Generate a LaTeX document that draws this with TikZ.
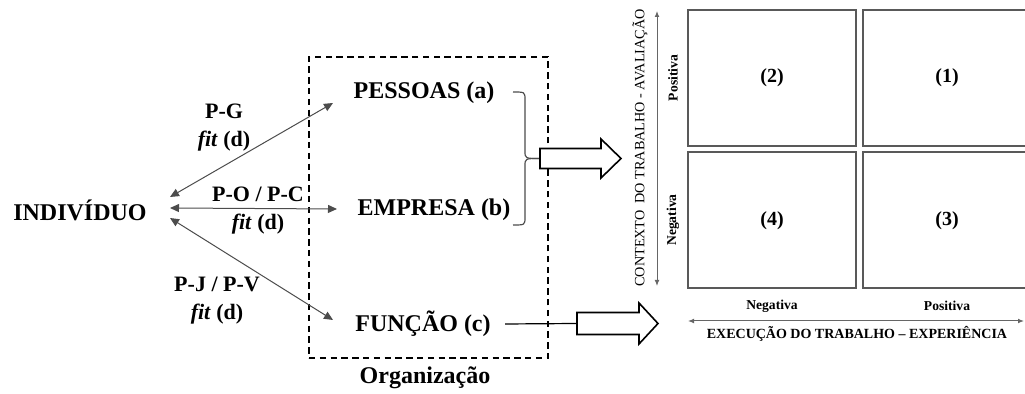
\documentclass[tikz,border=0pt]{standalone}
\usepackage{fontspec}
\setmainfont{Liberation Serif}
\usetikzlibrary{arrows.meta}
\tikzset{fit arrow/.style={{Triangle[length=4.5pt,width=4pt]}-{Triangle[length=4.5pt,width=4pt]}, line width=0.5pt, black!70},
    axis arrow/.style={{Latex[length=3pt,width=2.4pt]}-{Latex[length=3pt,width=2.4pt]}, line width=0.5pt, black!60},
    big label/.style={font=\fontsize{12}{14}\selectfont\bfseries, inner sep=0pt},
    fit label/.style={font=\fontsize{11}{14}\selectfont\bfseries, align=center, inner sep=0pt},
    block arrow/.style={draw=black, line width=0.8pt, fill=white},
    cell/.style={draw=black!65, line width=1pt, minimum width=84pt, minimum height=68pt, font=\fontsize{10}{12}\selectfont\bfseries},
    small label/.style={font=\fontsize{6.8}{8}\selectfont\bfseries, inner sep=0pt},
}

\begin{document}
\begin{tikzpicture}[x=0.5pt, y=-0.5pt]
                    \useasboundingbox (0,0) rectangle (1025,394);
                    %Individual on the left
                    \node[big label] (indiv) at (80,210) {INDIVÍDUO};
                    \coordinate (ig) at (170,197);
                    \coordinate (io) at (170,208);
                    \coordinate (ij) at (170,218);
                    %Organization box with its three parts
                    \node[draw, dashed, dash pattern=on 3.2pt off 2.2pt, line width=0.9pt, minimum width=119.5pt, minimum height=150.5pt] (org) at (428.5,207.5) {};
                    \node[big label] (orgname) at (425,378) {Organização};
                    \node[big label] (pessoas) at (424,93) {PESSOAS (a)};
                    \node[big label] (empresa) at (434,210) {EMPRESA (b)};
                    \node[big label] (funcao) at (423,324) {FUNÇÃO (c)};
                    \coordinate (pa) at (333,103);
                    \coordinate (eb) at (337,209);
                    \coordinate (fc) at (333,320);
                    %Fit arrows
                    \draw[fit arrow] (ig) -- (pa);
                    \draw[fit arrow] (io) -- (eb);
                    \draw[fit arrow] (ij) -- (fc);
                    \node[fit label] (pg) at (224,127.5) {P-G\\\textit{fit} (d)};
                    \node[fit label] (po) at (258,211) {P-O / P-C\\\textit{fit} (d)};
                    \node[fit label] (pj) at (217,301) {P-J / P-V\\\textit{fit} (d)};
                    %Brace and block arrows
                    \coordinate (bracetip) at (540,158.5);
                    \draw[black!70, line width=0.6pt] (513,92) .. controls (525,92) .. (525,100) -- (525,151) .. controls (525,158.5) .. (bracetip);
                    \draw[black!70, line width=0.6pt] (bracetip) .. controls (525,158.5) .. (525,166) -- (525,217) .. controls (525,225) .. (513,225);
                    \draw[block arrow] (540,148.5) -- (601,148.5) -- (601,139) -- (621,158.5) -- (601,178) -- (601,168.5) -- (540,168.5) -- cycle;
                    \coordinate (arrowtwo) at (577,323.5);
                    \draw[black, line width=0.6pt] (funcao.east) ++(14,0) -- (arrowtwo);
                    \draw[block arrow] (577,312.5) -- (639,312.5) -- (639,303) -- (658,323.5) -- (639,344) -- (639,334.5) -- (577,334.5) -- cycle;
                    %Matrix of four cells
                    \node[cell] (q2) at (772,78) {(2)};
                    \node[cell] (q1) at (947,78) {(1)};
                    \node[cell] (q4) at (772,220.5) {(4)};
                    \node[cell] (q3) at (947,220.5) {(3)};
                    %Vertical axis
                    \coordinate (vtop) at (657,11);
                    \coordinate (vbot) at (657,286);
                    \draw[axis arrow] (vtop) -- (vbot);
                    \node[rotate=90, inner sep=0pt, font=\fontsize{7.1}{8}\selectfont] (ctx) at (640,148) {CONTEXTO\ \ DO TRABALHO - AVALIAÇÃO};
                    \node[small label, rotate=90] (vpos) at (673,78) {Positiva};
                    \node[small label, rotate=90] (vneg) at (673,220) {Negativa};
                    %Horizontal axis
                    \coordinate (hleft) at (688,321);
                    \coordinate (hright) at (1024,321);
                    \draw[axis arrow] (hleft) -- (hright);
                    \node[small label] (hneg) at (772,306) {Negativa};
                    \node[small label] (hpos) at (947,306) {Positiva};
                    \node[small label, font=\fontsize{7}{8}\selectfont\bfseries] (exec) at (857,334) {EXECUÇÃO DO TRABALHO – EXPERIÊNCIA};
                \end{tikzpicture}
\end{document}
